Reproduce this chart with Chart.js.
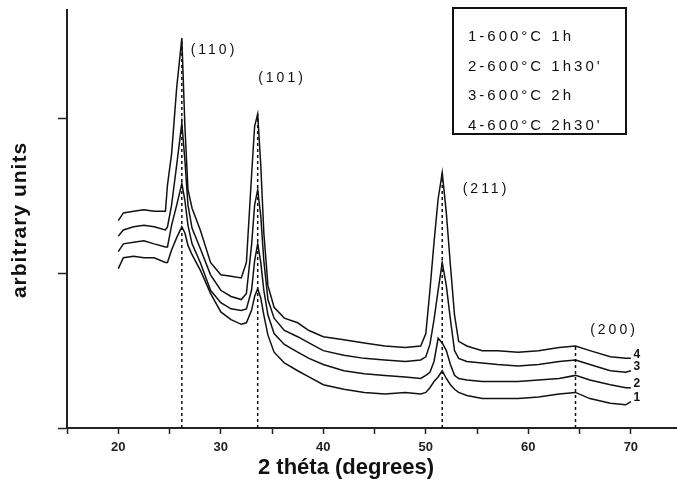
<!DOCTYPE html>
<html lang="en">
<head>
<meta charset="UTF-8">
<title>XRD patterns</title>
<script src="https://cdn.jsdelivr.net/npm/chart.js"></script>
<style>
    body { margin: 0; background: #fff; }
    #wrap { width: 677px; height: 490px; }
</style>
</head>
<body>
<div id="wrap"><canvas id="xrd" width="677" height="490"></canvas></div>
<script>
// 2 theta positions (degrees), shared by all four patterns
var angles = [20.0, 20.5, 21.5, 22.5, 23.5, 24.6, 24.8, 25.2, 25.7, 26.2,
              26.5, 26.8, 27.2, 28.0, 29.0, 30.0, 31.0, 32.0, 32.5, 33.0,
              33.3, 33.6, 33.9, 34.2, 34.6, 35.2, 36.2, 37.5, 38.6, 40.0,
              42.0, 44.0, 46.0, 48.0, 49.5, 50.0, 50.4, 50.8, 51.2, 51.6,
              52.0, 52.4, 52.8, 53.2, 54.0, 55.5, 57.0, 59.0, 61.0, 63.0,
              64.6, 66.0, 68.0, 69.5, 70.0];

// intensities (arbitrary units)
var curve1 = [1.03, 1.10, 1.11, 1.10, 1.10, 1.07, 1.07, 1.15, 1.23, 1.30,
              1.26, 1.18, 1.12, 1.02, 0.87, 0.75, 0.70, 0.67, 0.68, 0.76,
              0.85, 0.90, 0.84, 0.73, 0.60, 0.49, 0.42, 0.37, 0.33, 0.28,
              0.25, 0.23, 0.22, 0.23, 0.22, 0.23, 0.26, 0.30, 0.33, 0.37,
              0.32, 0.28, 0.25, 0.23, 0.21, 0.19, 0.19, 0.19, 0.20, 0.22,
              0.23, 0.19, 0.16, 0.15, 0.17];
var curve2 = [1.14, 1.19, 1.20, 1.21, 1.19, 1.17, 1.17, 1.31, 1.44, 1.58,
              1.47, 1.31, 1.19, 1.07, 0.89, 0.81, 0.77, 0.76, 0.77, 0.89,
              1.08, 1.19, 1.07, 0.89, 0.73, 0.61, 0.54, 0.49, 0.45, 0.41,
              0.37, 0.35, 0.34, 0.33, 0.32, 0.34, 0.36, 0.43, 0.58, 0.55,
              0.50, 0.41, 0.34, 0.32, 0.31, 0.30, 0.30, 0.30, 0.31, 0.32,
              0.34, 0.31, 0.28, 0.26, 0.26];
var curve3 = [1.24, 1.28, 1.30, 1.31, 1.30, 1.28, 1.30, 1.44, 1.70, 1.97,
              1.73, 1.44, 1.29, 1.16, 0.99, 0.89, 0.85, 0.83, 0.87, 1.18,
              1.44, 1.54, 1.37, 1.08, 0.83, 0.71, 0.63, 0.59, 0.55, 0.50,
              0.47, 0.45, 0.44, 0.43, 0.44, 0.46, 0.54, 0.70, 0.89, 1.07,
              0.92, 0.70, 0.50, 0.45, 0.43, 0.42, 0.41, 0.40, 0.41, 0.43,
              0.44, 0.41, 0.37, 0.36, 0.37];
var curve4 = [1.34, 1.39, 1.40, 1.41, 1.40, 1.40, 1.57, 1.77, 2.20, 2.52,
              1.95, 1.54, 1.42, 1.28, 1.07, 0.99, 0.98, 0.97, 1.07, 1.63,
              1.95, 2.03, 1.70, 1.26, 0.92, 0.78, 0.71, 0.68, 0.63, 0.59,
              0.57, 0.55, 0.53, 0.52, 0.53, 0.61, 0.89, 1.20, 1.48, 1.65,
              1.39, 1.05, 0.73, 0.56, 0.53, 0.50, 0.50, 0.49, 0.50, 0.52,
              0.53, 0.50, 0.46, 0.45, 0.45];

// reflections marked with dashed lines
var peakAngles = [26.2, 33.6, 51.6, 64.6];
var peakTops = [2.52, 2.03, 1.65, 0.53];
var peakLabels = ['(110)', '(101)', '(211)', '(200)'];

var curveNames = ['1', '2', '3', '4'];
var legendLines = ['1-600°C 1h', "2-600°C 1h30'", '3-600°C 2h', "4-600°C 2h30'"];

var FONT = '"Liberation Sans", Arial, sans-serif';

var datasets = [curve1, curve2, curve3, curve4].map(function (vals) {
    return {
        data: angles.map(function (a, i) { return {x: a, y: vals[i]}; }),
        borderColor: '#111',
        borderWidth: 1.5,
        pointRadius: 0,
        tension: 0
    };
});
peakAngles.forEach(function (a, i) {
    datasets.push({
        data: [{x: a, y: 0}, {x: a, y: peakTops[i]}],
        borderColor: '#111',
        borderWidth: 1.5,
        borderDash: [3, 3],
        pointRadius: 0
    });
});

// texts drawn on top: axis titles, peak names, legend box, curve numbers
var overlay = {
    id: 'overlay',
    afterDraw: function (chart) {
        var ctx = chart.ctx;
        var xs = chart.scales.x, ys = chart.scales.y;
        ctx.save();
        ctx.fillStyle = '#111';
        ctx.strokeStyle = '#111';
        ctx.textBaseline = 'middle';

        ctx.textAlign = 'center';
        ctx.font = 'bold 22px ' + FONT;
        ctx.letterSpacing = '0px';
        ctx.fillText('2 théta (degrees)', 346, 468);

        ctx.save();
        ctx.translate(20, 220);
        ctx.rotate(-Math.PI / 2);
        ctx.font = 'bold 21px ' + FONT;
        ctx.letterSpacing = '1px';
        ctx.fillText('arbitrary units', 0, 0);
        ctx.restore();

        // peak names
        var spots = [[214, 50], [282, 78], [486, 189], [614, 330]];
        ctx.font = '14px ' + FONT;
        ctx.letterSpacing = '3px';
        peakLabels.forEach(function (t, i) {
            ctx.fillText(t, spots[i][0], spots[i][1]);
        });

        // legend box
        ctx.lineWidth = 2;
        ctx.strokeRect(453, 8, 173, 126);
        ctx.textAlign = 'left';
        ctx.font = '15px ' + FONT;
        ctx.letterSpacing = '3px';
        legendLines.forEach(function (t, i) {
            ctx.fillText(t, 468, 37 + i * 29.5);
        });

        // numbers at the end of each curve
        ctx.font = 'bold 12px ' + FONT;
        ctx.letterSpacing = '0px';
        ctx.textAlign = 'center';
        var last = angles.length - 1;
        [curve1, curve2, curve3, curve4].forEach(function (vals, i) {
            var px = xs.getPixelForValue(angles[last]) + 6;
            var py = ys.getPixelForValue(vals[last]) - 4;
            ctx.fillText(curveNames[i], px, py);
        });
        ctx.restore();
    }
};

var chart = new Chart(document.getElementById('xrd'), {
    type: 'line',
    data: {datasets: datasets},
    plugins: [overlay],
    options: {
        responsive: false,
        animation: false,
        devicePixelRatio: 1,
        layout: {padding: {top: 10, right: 0, left: 0, bottom: 0}},
        plugins: {legend: {display: false}, tooltip: {enabled: false}},
        scales: {
            x: {
                type: 'linear',
                min: 15,
                max: 74.5,
                border: {color: '#222', width: 2},
                grid: {drawOnChartArea: false, color: '#222', tickLength: 6, tickWidth: 1.5},
                ticks: {
                    stepSize: 5,
                    includeBounds: false,
                    autoSkip: false,
                    maxRotation: 0,
                    padding: 6,
                    color: '#222',
                    font: {family: FONT, size: 13, weight: 'bold'},
                    callback: function (v) { return v % 10 === 0 ? v : ''; }
                },
                afterFit: function (s) { s.height = 62; }
            },
            y: {
                min: 0,
                max: 2.7,
                border: {color: '#222', width: 2},
                grid: {drawOnChartArea: false, color: '#222', tickLength: 9, tickWidth: 1.5},
                ticks: {
                    stepSize: 1,
                    includeBounds: false,
                    callback: function () { return ''; }
                },
                afterFit: function (s) { s.width = 67; }
            }
        }
    }
});
</script>
</body>
</html>
